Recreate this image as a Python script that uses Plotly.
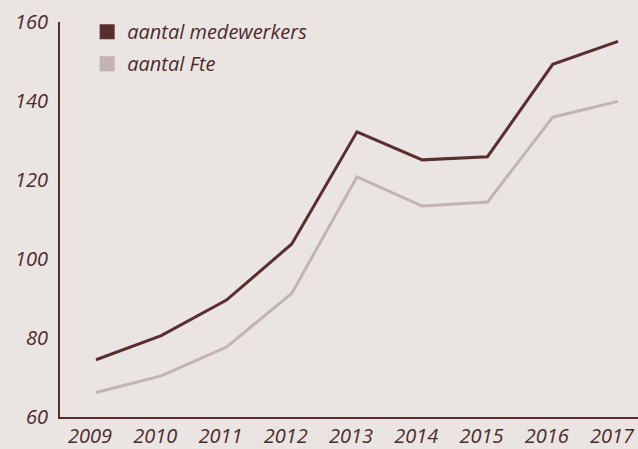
import plotly.graph_objects as go

years = [2009, 2010, 2011, 2012, 2013, 2014, 2015, 2016, 2017]
medewerkers = [74.5, 80.6, 89.6, 103.8, 132.2, 125.1, 125.9, 149.3, 155.1]
fte = [66.2, 70.4, 77.7, 91.3, 120.8, 113.4, 114.4, 135.9, 139.9]
series_names = ["aantal medewerkers", "aantal Fte"]
y_ticks = [60, 80, 100, 120, 140, 160]

dark = "#5a2e2e"
light = "#c4b4b0"
text_col = "#4d2b2b"
bg = "#eae5e2"
font_family = "'Open Sans', Lato, sans-serif"

fig = go.Figure()
for vals, name, col in [(medewerkers, series_names[0], dark), (fte, series_names[1], light)]:
    fig.add_trace(go.Scatter(x=years, y=vals, mode="lines", line=dict(color=col, width=3),
                             showlegend=False, hoverinfo="skip"))
for i, (name, col) in enumerate([(series_names[0], dark), (series_names[1], light)]):
    fig.add_trace(go.Scatter(x=[None], y=[None], mode="markers", name=name,
                             legendgroup="g%d" % i,
                             marker=dict(symbol="square", size=15, color=col)))

fig.update_layout(
    width=638, height=449,
    paper_bgcolor=bg, plot_bgcolor=bg,
    margin=dict(l=60, r=0, t=22, b=32, autoexpand=False),
    font=dict(family=font_family, color=text_col, size=20, style="italic"),
    legend=dict(x=0.047, y=1.025, xanchor="left", yanchor="top", bgcolor="rgba(0,0,0,0)",
                font=dict(size=20, style="italic", color=text_col, family=font_family),
                itemwidth=30, tracegroupgap=3),
    xaxis=dict(range=[2008.448, 2017.307], tickmode="array", tickvals=years,
               ticktext=[str(y) for y in years], showgrid=False, zeroline=False,
               showline=True, linecolor=dark, linewidth=2, ticks="", automargin=False,
               ticklabeloverflow="allow", ticklabelshift=-6,
               tickfont=dict(size=20, style="italic", color=text_col, family=font_family)),
    yaxis=dict(range=[60, 160], tickmode="array", tickvals=y_ticks, showgrid=False,
               zeroline=False, showline=True, linecolor=dark, linewidth=2, ticks="",
               ticklabelstandoff=6, automargin=False,
               tickfont=dict(size=20, style="italic", color=text_col, family=font_family)),
)
fig.write_html("out.html", config={"displayModeBar": False},
               post_script="document.body.style.margin='0';document.body.style.overflow='hidden';")
